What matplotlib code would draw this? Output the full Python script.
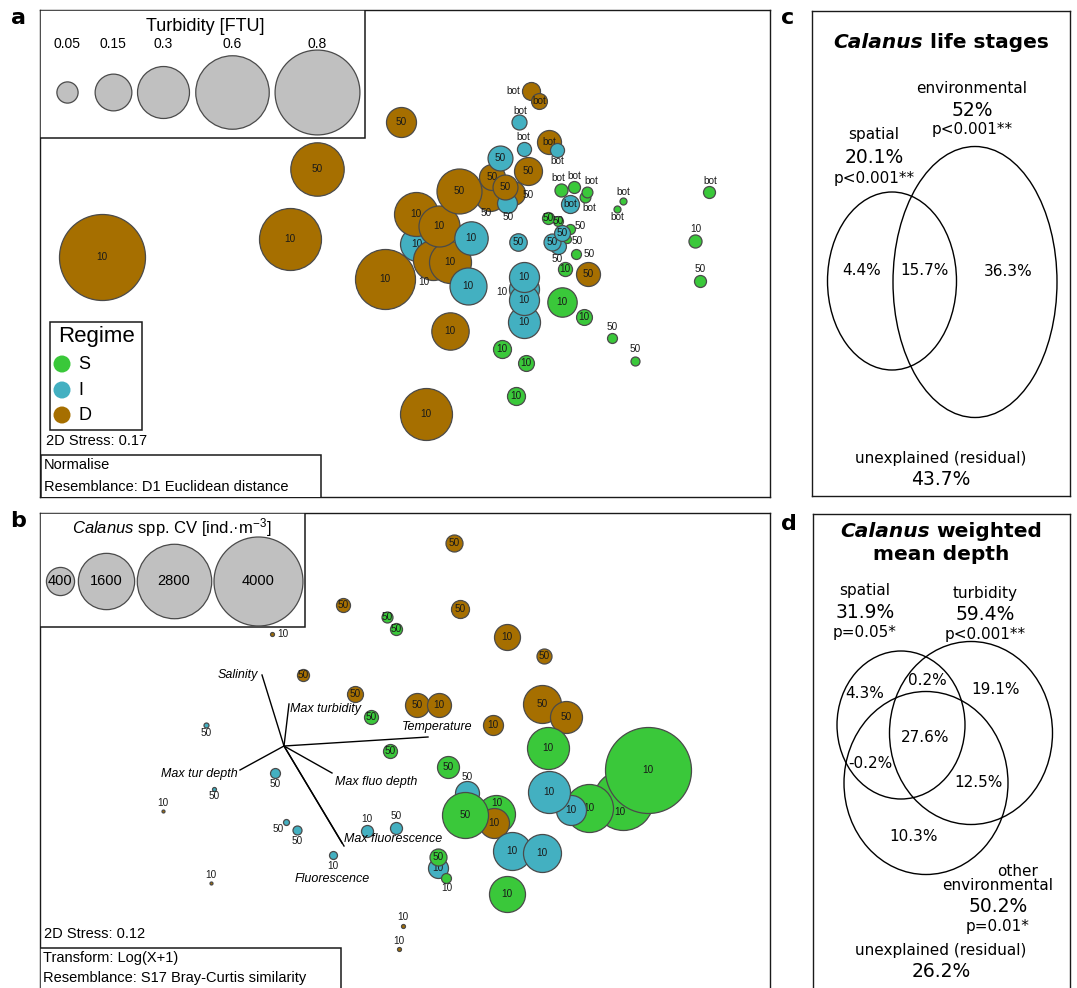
import numpy as np
import matplotlib
matplotlib.use("Agg")
import matplotlib.pyplot as plt
from matplotlib.patches import Ellipse, Rectangle

plt.rcParams["mathtext.fontset"] = "custom"
plt.rcParams["mathtext.rm"] = "Liberation Sans"
plt.rcParams["mathtext.it"] = "Liberation Sans:italic"

W, H, DPI = 1077, 988, 100
SANS = "Liberation Sans"
EDGE = "#4a4a4a"
REGIME_COLORS = {"S": "#3AC83A", "I": "#43B0C1", "D": "#A66F00"}

# ---- nMDS of Calanus life stages (coloured by regime, sized by turbidity) ----
a_x = [102, 317, 290, 401, 385, 426, 450, 417, 433, 450, 416, 439, 471, 468, 490, 513, 507, 492, 505, 459,
       500, 528, 531, 539, 519, 524, 549, 557, 561, 574, 585, 587, 570, 623, 617, 709, 695, 700, 548, 558,
       570, 558, 567, 552, 562, 576, 565, 588, 518, 524, 524, 524, 524, 562, 584, 502, 526, 516, 612, 635]
a_y = [257, 169, 239, 122, 279, 414, 331, 244, 260, 262, 214, 226, 238, 286, 196, 193, 203, 177, 187, 191,
       158, 171, 91, 101, 122, 149, 142, 150, 190, 187, 197, 192, 204, 201, 209, 192, 241, 281, 218, 221,
       229, 246, 239, 242, 233, 254, 269, 274, 242, 322, 289, 300, 277, 302, 317, 349, 363, 396, 338, 361]
a_turb = [0.822, 0.317, 0.427, 0.100, 0.400, 0.300, 0.155, 0.128, 0.178, 0.196, 0.215, 0.187, 0.124, 0.152,
          0.100, 0.064, 0.044, 0.075, 0.069, 0.225, 0.069, 0.087, 0.036, 0.028, 0.025, 0.022, 0.064, 0.022,
          0.019, 0.016, 0.013, 0.013, 0.036, 0.0054, 0.0054, 0.016, 0.019, 0.016, 0.016, 0.011, 0.011, 0.028,
          0.0071, 0.032, 0.028, 0.011, 0.022, 0.064, 0.034, 0.114, 0.100, 0.100, 0.100, 0.096, 0.028, 0.036,
          0.028, 0.036, 0.011, 0.009]
a_regime = list("DDDDDDDIDDDDIIDDIDDDIDDDIIDIS" "SSSISSSSSSSSISIISSDIIIIISSSSSSS")
a_depth = ["10", "50", "10", "50", "10", "10", "10", "10", "10", "10", "10", "10", "10", "10", "50", "50",
           "50", "50", "50", "50", "50", "50", "bot", "bot", "bot", "bot", "bot", "bot", "bot", "bot", "bot",
           "bot", "bot", "bot", "bot", "bot", "10", "50", "50", "50", "50", "50", "50", "50", "50", "50", "10",
           "50", "50", "10", "10", "10", "10", "10", "10", "10", "10", "10", "50", "50"]
# label placement relative to each bubble (pixels); missing = centred in the bubble
a_lab_off = {8: (-9, 22), 14: (-4, 17), 15: (15, 2), 16: (1, 14), 22: (-18, 0), 24: (1, -11),
             25: (-1, -12), 27: (0, 11), 28: (-3, -12), 29: (0, -11), 30: (4, 11), 31: (4, -11),
             33: (0, -9), 34: (0, 8), 35: (1, -11), 36: (1, -12), 37: (0, -12), 40: (10, -3),
             41: (-1, 13), 42: (10, 2), 45: (13, 0), 50: (-22, 3), 58: (0, -11), 59: (0, -12)}

turb_legend = [0.05, 0.15, 0.3, 0.6, 0.8]
turb_legend_x = [67, 113, 163, 232, 317]

# ---- nMDS of Calanus spp. abundance (sized by CV) ----
b_x = [272, 343, 387, 396, 454, 460, 507, 544, 303, 355, 417, 439, 371, 493, 542, 566, 390, 448, 548, 206,
       275, 214, 163, 286, 297, 367, 396, 333, 211, 467, 496, 494, 465, 438, 438, 446, 512, 542, 507, 623,
       648, 589, 571, 549, 403, 399]
b_y = [634, 605, 617, 629, 543, 609, 637, 656, 675, 694, 705, 705, 717, 725, 704, 717, 751, 767, 748, 725,
       773, 789, 811, 822, 830, 831, 828, 855, 883, 793, 814, 823, 815, 868, 857, 878, 851, 853, 894, 800,
       770, 808, 810, 792, 926, 949]
b_cv = [8, 99, 61, 73, 146, 164, 341, 114, 73, 129, 291, 291, 99, 202, 729, 517, 99, 244, 891, 12.6,
        50, 8, 4.5, 18, 41, 73, 73, 32, 4.5, 291, 729, 455, 1069, 202, 146, 50, 729, 729, 655, 1818,
        3735, 1164, 455, 891, 8, 8]
b_regime = list("DDSSDDDDDDDDSDDDSSSIIIDIIIIIDISDSISSIISSSSIIDD")
b_depth = ["10", "50", "50", "50", "50", "50", "10", "50", "50", "50", "50", "10", "50", "10", "50", "50",
           "50", "50", "10", "50", "50", "50", "10", "50", "50", "10", "50", "10", "10", "50", "10", "10",
           "50", "10", "50", "10", "10", "10", "10", "10", "10", "10", "10", "10", "10", "10"]
b_lab_off = {0: (11, 0), 19: (0, 8), 20: (0, 11), 21: (0, 7), 22: (0, -8), 23: (-8, 7), 24: (0, 11),
             25: (0, -12), 26: (0, -12), 27: (0, 11), 28: (0, -8), 29: (0, -16), 30: (1, -11),
             35: (1, 10), 39: (-3, 12), 44: (0, -9), 45: (0, -8)}

cv_legend = [400, 1600, 2800, 4000]
cv_legend_x = [60, 106, 174, 258]

# environmental vectors (pixel loadings from the origin) and their label anchors
env_names = ["Salinity", "Max turbidity", "Temperature", "Max fluo depth", "Max fluorescence",
             "Max tur depth", "Fluorescence"]
env_dx = [-22, 5, 144, 48, 60, -44, 58]
env_dy = [-71, -42, -9, 27, 100, 24, 97]
env_lab = [(-4, 0, "right"), (1, 5, "left"), (-26, -10, "left"), (3, 9, "left"), (0, -7, "left"),
           (-2, 4, "right"), (-10, 36, "center")]
ENV_ORIGIN = (284, 746)

fig = plt.figure(figsize=(W / DPI, H / DPI), dpi=DPI)


def panel(x0, y0, x1, y1):
    ax = fig.add_axes([x0 / W, 1 - y1 / H, (x1 - x0) / W, (y1 - y0) / H])
    ax.set_xlim(x0, x1)
    ax.set_ylim(y1, y0)
    ax.set_xticks([])
    ax.set_yticks([])
    for sp in ax.spines.values():
        sp.set_linewidth(1.0)
        sp.set_color("#1a1a1a")
    return ax


def bubble_s(r_px):
    return (2 * r_px * 72 / DPI) ** 2


def draw_bubbles(ax, xs, ys, vals, regimes, labels, offsets, scale):
    for i, (x, y, v, g, lab) in enumerate(zip(xs, ys, vals, regimes, labels)):
        r = np.sqrt(v * scale)
        z = 3 + 2 * i
        ax.scatter([x], [y], s=bubble_s(r), color=REGIME_COLORS[g], edgecolors=EDGE,
                   linewidths=0.9, zorder=z)
        dx, dy = offsets.get(i, (0, 0))
        ax.text(x + dx, y + dy, lab, fontsize=7.2, family=SANS, color="#1a1a1a",
                ha="center", va="center", zorder=z + 1)


# panel a
ax_a = panel(40, 10, 770, 497)
draw_bubbles(ax_a, a_x, a_y, a_turb, a_regime, a_depth, a_lab_off, 2250)

ax_a.add_patch(Rectangle((40, 10), 325, 128, facecolor="white", edgecolor="#1a1a1a", lw=1.1, zorder=200))
ax_a.text(205, 27, "Turbidity [FTU]", fontsize=13, family=SANS, ha="center", va="center", zorder=201)
for v, x in zip(turb_legend, turb_legend_x):
    ax_a.scatter([x], [92], s=bubble_s(np.sqrt(v * 2250)), color="#C0C0C0", edgecolors=EDGE,
                 linewidths=0.9, zorder=202)
    ax_a.text(x, 44, f"{v:g}", fontsize=10, family=SANS, ha="center", va="center", zorder=202)

ax_a.add_patch(Rectangle((50, 322), 92, 108, facecolor="white", edgecolor="#1a1a1a", lw=1.1, zorder=200))
ax_a.text(96, 336, "Regime", fontsize=16, family=SANS, ha="center", va="center", zorder=201)
for g, yy in zip(["S", "I", "D"], [364, 390, 415]):
    ax_a.scatter([62], [yy], s=bubble_s(8.5), color=REGIME_COLORS[g], edgecolors="none", zorder=201)
    ax_a.text(78, yy, g, fontsize=13, family=SANS, ha="left", va="center", zorder=201)

ax_a.text(46, 441, "2D Stress: 0.17", fontsize=10.5, family=SANS, ha="left", va="center")
ax_a.add_patch(Rectangle((41, 455), 280, 45, facecolor="white", edgecolor="#1a1a1a", lw=1.1, zorder=200))
ax_a.text(44, 465, "Normalise", fontsize=10.5, family=SANS, ha="left", va="center", zorder=201)
ax_a.text(44, 487, "Resemblance: D1 Euclidean distance", fontsize=10.5, family=SANS,
          ha="left", va="center", zorder=201)

# panel b
ax_b = panel(40, 513, 770, 1000)
ox, oy = ENV_ORIGIN
for name, dx, dy, (lx, ly, ha) in zip(env_names, env_dx, env_dy, env_lab):
    ax_b.plot([ox, ox + dx], [oy, oy + dy], color="black", lw=1.0, zorder=2)
    ax_b.text(ox + dx + lx, oy + dy + ly, name, fontsize=9, style="italic", family=SANS,
              ha=ha, va="center", zorder=300)
draw_bubbles(ax_b, b_x, b_y, b_cv, b_regime, b_depth, b_lab_off, 0.495)

ax_b.add_patch(Rectangle((40, 513), 265, 114, facecolor="white", edgecolor="#1a1a1a", lw=1.1, zorder=400))
ax_b.text(172, 528, "$\\it{Calanus}$ spp. CV [ind.·m$^{-3}$]", fontsize=12, family=SANS,
          ha="center", va="center", zorder=401)
for v, x in zip(cv_legend, cv_legend_x):
    ax_b.scatter([x], [581], s=bubble_s(np.sqrt(v * 0.495)), color="#C0C0C0", edgecolors=EDGE,
                 linewidths=0.9, zorder=402)
    ax_b.text(x, 581, str(v), fontsize=10.5, family=SANS, ha="center", va="center", zorder=403)

ax_b.text(44, 934, "2D Stress: 0.12", fontsize=10.5, family=SANS, ha="left", va="center")
ax_b.add_patch(Rectangle((40, 948), 301, 60, facecolor="white", edgecolor="#1a1a1a", lw=1.1, zorder=400))
ax_b.text(43, 958, "Transform: Log(X+1)", fontsize=10.5, family=SANS, ha="left", va="center", zorder=401)
ax_b.text(43, 978, "Resemblance: S17 Bray-Curtis similarity", fontsize=10.5, family=SANS,
          ha="left", va="center", zorder=401)


def bold_title(ax, x, y, parts, size=14.5):
    renderer = fig.canvas.get_renderer()
    texts = [ax.text(0, y, s, fontsize=size, fontweight="bold", fontstyle=st, family="DejaVu Sans",
                     ha="left", va="center") for s, st in parts]
    widths = [t.get_window_extent(renderer).width for t in texts]
    gap = size * 0.32 * DPI / 72
    cx = x - (sum(widths) + gap * (len(texts) - 1)) / 2
    for t, w in zip(texts, widths):
        t.set_x(cx)
        cx += w + gap


def label(ax, x, y, s, size=11):
    ax.text(x, y, s, fontsize=size, family="DejaVu Sans", ha="center", va="center")


# panel c: variation partitioning of life stages
ax_c = panel(812, 11, 1070, 496)
bold_title(ax_c, 941, 42, [("Calanus", "italic"), ("life stages", "normal")])
ax_c.add_patch(Ellipse((892, 281), 129, 178, fill=False, lw=1.0, edgecolor="black"))
ax_c.add_patch(Ellipse((975, 282), 164, 271, fill=False, lw=1.0, edgecolor="black"))
label(ax_c, 972, 88, "environmental")
label(ax_c, 972, 110, "52%", 13.5)
label(ax_c, 972, 129, "p<0.001**")
label(ax_c, 874, 134, "spatial")
label(ax_c, 874, 157, "20.1%", 13.5)
label(ax_c, 874, 178, "p<0.001**")
label(ax_c, 862, 270, "4.4%")
label(ax_c, 925, 270, "15.7%")
label(ax_c, 1008, 271, "36.3%")
label(ax_c, 941, 458, "unexplained (residual)")
label(ax_c, 941, 479, "43.7%", 13.5)

# panel d: variation partitioning of weighted mean depth
ax_d = panel(813, 514, 1070, 1000)
bold_title(ax_d, 941, 531, [("Calanus", "italic"), ("weighted", "normal")])
bold_title(ax_d, 941, 554, [("mean depth", "normal")])
ax_d.add_patch(Ellipse((901, 725), 128, 148, fill=False, lw=1.0, edgecolor="black"))
ax_d.add_patch(Ellipse((971, 733), 163, 183, fill=False, lw=1.0, edgecolor="black"))
ax_d.add_patch(Ellipse((926, 783), 164, 183, fill=False, lw=1.0, edgecolor="black"))
label(ax_d, 865, 590, "spatial")
label(ax_d, 865, 612, "31.9%", 13.5)
label(ax_d, 865, 632, "p=0.05*")
label(ax_d, 985, 593, "turbidity")
label(ax_d, 985, 614, "59.4%", 13.5)
label(ax_d, 985, 634, "p<0.001**")
label(ax_d, 865, 693, "4.3%")
label(ax_d, 927, 680, "0.2%")
label(ax_d, 996, 689, "19.1%")
label(ax_d, 925, 737, "27.6%")
label(ax_d, 870, 763, "-0.2%")
label(ax_d, 979, 782, "12.5%")
label(ax_d, 914, 836, "10.3%")
label(ax_d, 1018, 871, "other")
label(ax_d, 998, 885, "environmental")
label(ax_d, 998, 906, "50.2%", 13.5)
label(ax_d, 998, 926, "p=0.01*")
label(ax_d, 941, 950, "unexplained (residual)")
label(ax_d, 941, 971, "26.2%", 13.5)

for letter, (px, py) in zip("abcd", [(18, 18), (18, 521), (788, 18), (789, 524)]):
    fig.text(px / W, 1 - py / H, letter, fontsize=16, fontweight="bold", family="DejaVu Sans",
             ha="center", va="center")

fig.savefig("out.png", dpi=DPI)
